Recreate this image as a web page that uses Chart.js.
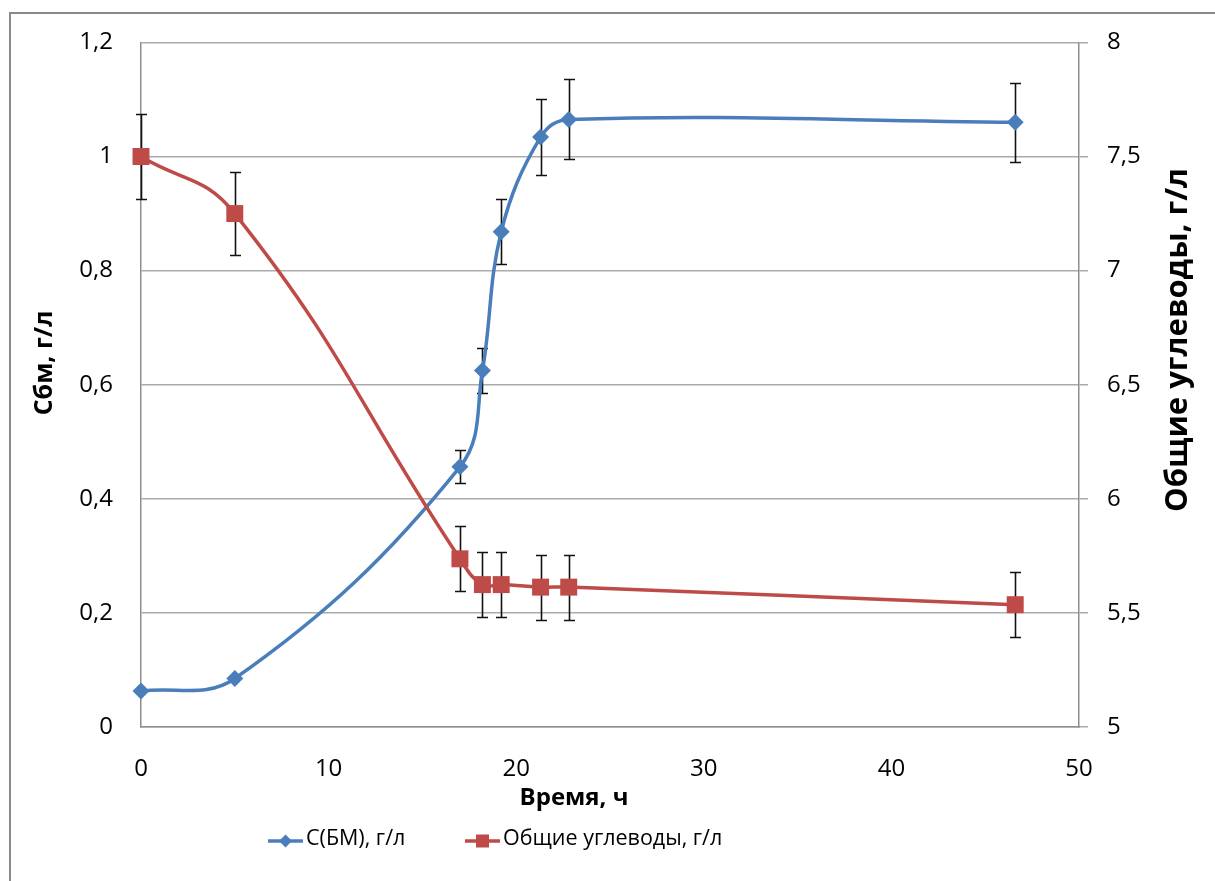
<!DOCTYPE html>
<html>
<head>
<meta charset="utf-8">
<script src="https://cdn.jsdelivr.net/npm/chart.js@4.4.1/dist/chart.umd.min.js"></script>
<style>
  html, body { margin: 0; padding: 0; background: #fff; }
  #wrap { width: 1215px; height: 881px; position: relative; }
</style>
</head>
<body>
<div id="wrap"><canvas id="chart"></canvas></div>
<script>
// time points, h
const hours = [0, 5, 17, 18.2, 19.2, 21.3, 22.8, 46.6];
// biomass concentration, g/l
const biomass = [0.063, 0.085, 0.456, 0.625, 0.868, 1.034, 1.065, 1.060];
const biomassErr = [0, 0, 0.029, 0.04, 0.057, 0.067, 0.07, 0.069];
// total carbohydrates, g/l
const carbs = [7.5, 7.25, 5.737, 5.624, 5.624, 5.613, 5.613, 5.536];
const carbsErr = [0.188, 0.183, 0.142, 0.142, 0.142, 0.142, 0.142, 0.142];

const leftTickLabels = ['0', '0,2', '0,4', '0,6', '0,8', '1', '1,2'];
const rightTickLabels = ['5', '5,5', '6', '6,5', '7', '7,5', '8'];
const xTickLabels = ['0', '10', '20', '30', '40', '50'];

const blue = '#4a7ebb';
const red = '#be4b48';
const gridColor = '#ababab';
const axisColor = '#8e8e8e';
const FONT = '"Open Sans", "DejaVu Sans", sans-serif';

const toPoints = (ys) => hours.map((x, i) => ({ x: x, y: ys[i] }));

// vertical error bars with caps, drawn under the lines and markers
const errorBars = {
  id: 'errorBars',
  beforeDatasetsDraw(chart) {
    const ctx = chart.ctx;
    ctx.save();
    ctx.strokeStyle = '#111';
    ctx.lineWidth = 1.6;
    chart.data.datasets.forEach((ds, di) => {
      const meta = chart.getDatasetMeta(di);
      const scale = chart.scales[ds.yAxisID];
      meta.data.forEach((pt, i) => {
        const err = ds.errors[i];
        if (!err) return;
        const v = ds.data[i].y;
        const top = Math.round(scale.getPixelForValue(v + err)) + 0.5;
        const bot = Math.round(scale.getPixelForValue(v - err)) + 0.5;
        const x = Math.round(pt.x) + 0.5;
        ctx.beginPath();
        ctx.moveTo(x, top); ctx.lineTo(x, bot);
        ctx.moveTo(x - 5.5, top); ctx.lineTo(x + 5.5, top);
        ctx.moveTo(x - 5.5, bot); ctx.lineTo(x + 5.5, bot);
        ctx.stroke();
      });
    });
    ctx.restore();
  }
};

// outer frame, axis titles and the legend row
const decorations = {
  id: 'decorations',
  afterDraw(chart) {
    const ctx = chart.ctx;
    ctx.save();
    ctx.strokeStyle = '#8a8a8a';
    ctx.lineWidth = 2;
    ctx.strokeRect(10, 13, 1230, 900);

    ctx.fillStyle = '#000';
    ctx.textAlign = 'center';
    ctx.textBaseline = 'middle';
    ctx.font = 'bold 24px ' + FONT;
    ctx.fillText('Время, ч', 574, 798);

    ctx.save();
    ctx.translate(45, 363);
    ctx.rotate(-Math.PI / 2);
    ctx.font = 'bold 25px ' + FONT;
    ctx.fillText('Сбм, г/л', 0, 0);
    ctx.restore();

    ctx.save();
    ctx.translate(1178, 340);
    ctx.rotate(-Math.PI / 2);
    ctx.font = 'bold 31px ' + FONT;
    ctx.fillText('Общие углеводы, г/л', 0, 0);
    ctx.restore();

    // legend
    const items = [
      { x: 268, ds: chart.data.datasets[0] },
      { x: 465, ds: chart.data.datasets[1] }
    ];
    const ly = 841;
    items.forEach(it => {
      ctx.strokeStyle = it.ds.borderColor;
      ctx.lineWidth = 3.5;
      ctx.beginPath();
      ctx.moveTo(it.x, ly); ctx.lineTo(it.x + 35, ly);
      ctx.stroke();
      ctx.fillStyle = it.ds.borderColor;
      const cx = it.x + 17.5;
      if (it.ds.pointStyle === 'rectRot') {
        ctx.beginPath();
        ctx.moveTo(cx - 6.5, ly); ctx.lineTo(cx, ly - 6.5);
        ctx.lineTo(cx + 6.5, ly); ctx.lineTo(cx, ly + 6.5);
        ctx.closePath(); ctx.fill();
      } else {
        ctx.fillRect(cx - 6.5, ly - 6.5, 13, 13);
      }
      ctx.fillStyle = '#000';
      ctx.textAlign = 'left';
      ctx.font = '21.5px ' + FONT;
      ctx.fillText(it.ds.label, it.x + 38, ly - 2);
    });
    ctx.restore();
  }
};

new Chart(document.getElementById('chart'), {
  type: 'scatter',
  data: {
    datasets: [
      {
        label: 'С(БМ), г/л',
        data: toPoints(biomass),
        errors: biomassErr,
        yAxisID: 'y',
        showLine: true,
        tension: 0.38,
        clip: false,
        borderColor: blue,
        backgroundColor: blue,
        borderWidth: 3.5,
        pointStyle: 'rectRot',
        pointRadius: 8.5,
        pointBorderWidth: 0,
        order: 1
      },
      {
        label: 'Общие углеводы, г/л',
        data: toPoints(carbs),
        errors: carbsErr,
        yAxisID: 'y1',
        showLine: true,
        tension: 0.45,
        clip: false,
        borderColor: red,
        backgroundColor: red,
        borderWidth: 3.5,
        pointStyle: 'rect',
        pointRadius: 12,
        pointBorderWidth: 0,
        order: 0
      }
    ]
  },
  options: {
    responsive: true,
    maintainAspectRatio: false,
    animation: false,
    layout: { padding: { left: 10, top: 40, right: 0, bottom: 0 } },
    plugins: { legend: { display: false }, tooltip: { enabled: false } },
    scales: {
      x: {
        type: 'linear',
        min: 0, max: 50,
        afterFit: s => { s.height = 154; },
        ticks: {
          stepSize: 10,
          color: '#000',
          font: { family: FONT, size: 24 },
          padding: 28,
          callback: (v, i) => xTickLabels[i]
        },
        grid: { drawOnChartArea: false, drawTicks: false },
        border: { color: axisColor, width: 1.5 }
      },
      y: {
        position: 'left',
        min: 0, max: 1.2,
        afterFit: s => { s.width = 131; },
        ticks: {
          stepSize: 0.2,
          color: '#000',
          font: { family: FONT, size: 24 },
          padding: 28,
          callback: (v, i) => leftTickLabels[i]
        },
        grid: { color: gridColor, lineWidth: 1.5, drawTicks: false },
        border: { color: axisColor, width: 1.5 }
      },
      y1: {
        position: 'right',
        min: 5, max: 8,
        afterFit: s => { s.width = 136; },
        ticks: {
          stepSize: 0.5,
          color: '#000',
          font: { family: FONT, size: 24 },
          padding: 19,
          callback: (v, i) => rightTickLabels[i]
        },
        grid: { drawOnChartArea: false, color: gridColor, lineWidth: 1.5, tickLength: 9 },
        border: { color: axisColor, width: 1.5 }
      }
    }
  },
  plugins: [errorBars, decorations]
});
</script>
</body>
</html>
